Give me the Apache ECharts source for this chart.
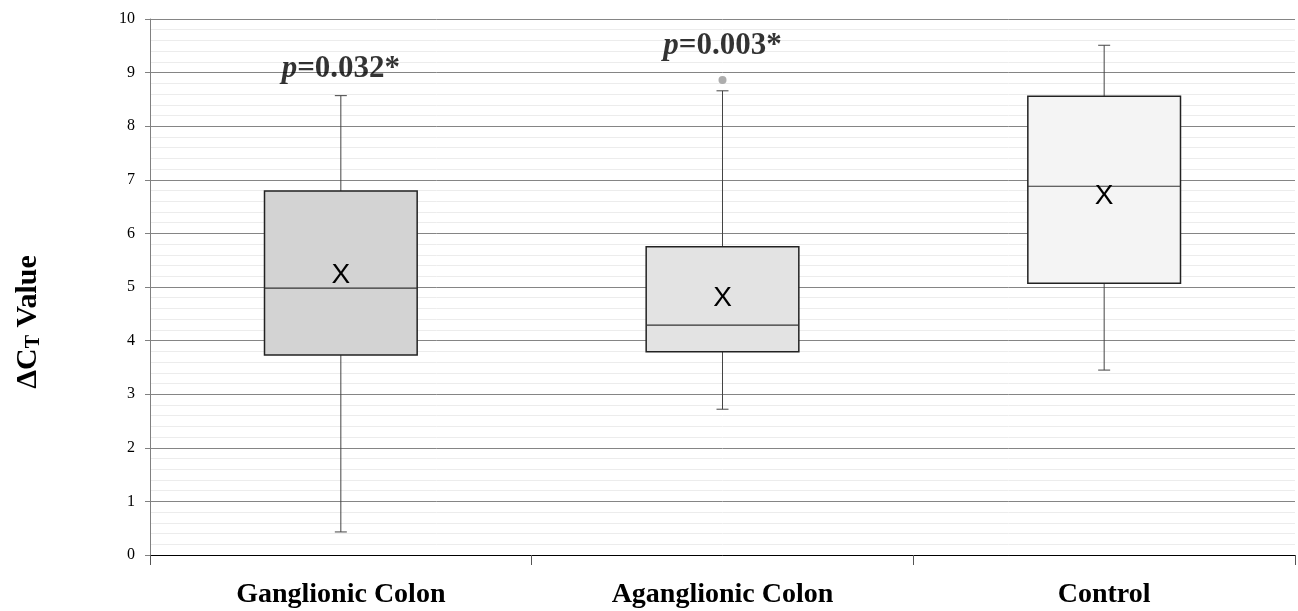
<!DOCTYPE html>
<html><head><meta charset="utf-8">
<script src="https://cdn.jsdelivr.net/npm/echarts@6/dist/echarts.min.js"></script>
<style>html,body{margin:0;padding:0;background:#fff}#c{width:1298px;height:611px}</style>
</head><body><div id="c"></div>
<script>
const categories = ['Ganglionic Colon', 'Aganglionic Colon', 'Control'];
const whiskerMin = [0.43, 2.72, 3.45];
const q1 = [3.73, 3.79, 5.07];
const median = [4.98, 4.29, 6.88];
const q3 = [6.79, 5.75, 8.56];
const whiskerMax = [8.57, 8.66, 9.51];
const means = [5.22, 4.79, 6.70];
const outliers = [[1, 8.86]];
const pText = ['0.032*', '0.003*'];
const pY = [9.07, 9.5];
const yTicks = [0, 1, 2, 3, 4, 5, 6, 7, 8, 9, 10];
const boxFills = ['#d3d3d3', '#e3e3e3', '#f4f4f4'];

const boxData = categories.map((c, i) => [i, whiskerMin[i], q1[i], median[i], q3[i], whiskerMax[i], means[i]]);
const pData = pText.map((t, i) => ({ value: [i, pY[i]], name: t }));

const chart = echarts.init(document.getElementById('c'));
chart.setOption({
  animation: false,
  graphic: [{
    type: 'text', x: 28, y: 322, rotation: Math.PI / 2,
    style: {
      text: '{a|ΔC}{b|T}{a| Value}', align: 'center', verticalAlign: 'middle',
      rich: {
        a: { fontFamily: 'Liberation Serif', fontWeight: 'bold', fontSize: 30, fill: '#000' },
        b: { fontFamily: 'Liberation Serif', fontWeight: 'bold', fontSize: 20, fill: '#000', padding: [12, 0, 0, 0] }
      }
    }
  }],
  grid: { left: 150, right: 3, top: 19, bottom: 56 },
  xAxis: {
    type: 'category', data: categories, boundaryGap: true,
    axisLine: { lineStyle: { color: '#000', width: 1 } },
    axisTick: { show: true, length: 10, lineStyle: { color: '#555' } },
    axisLabel: { fontFamily: 'Liberation Serif', fontWeight: 'bold', fontSize: 28, color: '#000', margin: 26 }
  },
  yAxis: {
    type: 'value', min: yTicks[0], max: yTicks[yTicks.length - 1], interval: 1,
    axisLine: { show: true, lineStyle: { color: '#808080' } },
    axisTick: { show: true, length: 5, lineStyle: { color: '#808080' } },
    axisLabel: { fontFamily: 'Liberation Serif', fontSize: 16, color: '#000', margin: 15 },
    splitLine: { show: true, lineStyle: { color: '#858585', width: 1 } },
    minorTick: { show: false, splitNumber: 5 },
    minorSplitLine: { show: true, lineStyle: { color: '#ececec', width: 1 } }
  },
  series: [
    {
      type: 'custom',
      data: boxData,
      encode: { x: 0, y: [1, 2, 3, 4, 5] },
      renderItem: function (params, api) {
        const i = api.value(0);
        const xc = api.coord([i, 0])[0];
        const bw = api.size([1, 0])[0] * 0.4;
        const cap = 12;
        const yMin = api.coord([i, api.value(1)])[1];
        const yQ1 = api.coord([i, api.value(2)])[1];
        const yMed = api.coord([i, api.value(3)])[1];
        const yQ3 = api.coord([i, api.value(4)])[1];
        const yMax = api.coord([i, api.value(5)])[1];
        const yMean = api.coord([i, api.value(6)])[1];
        const ws = { stroke: '#444', lineWidth: 1 };
        return {
          type: 'group',
          children: [
            { type: 'line', shape: { x1: xc, y1: yQ3, x2: xc, y2: yMax }, style: ws },
            { type: 'line', shape: { x1: xc - cap / 2, y1: yMax, x2: xc + cap / 2, y2: yMax }, style: ws },
            { type: 'line', shape: { x1: xc, y1: yQ1, x2: xc, y2: yMin }, style: ws },
            { type: 'line', shape: { x1: xc - cap / 2, y1: yMin, x2: xc + cap / 2, y2: yMin }, style: ws },
            { type: 'rect', shape: { x: xc - bw / 2, y: yQ3, width: bw, height: yQ1 - yQ3 }, style: { fill: boxFills[i], stroke: '#222', lineWidth: 1.5 } },
            { type: 'line', shape: { x1: xc - bw / 2, y1: yMed, x2: xc + bw / 2, y2: yMed }, style: { stroke: '#333', lineWidth: 1.2 } },
            { type: 'text', x: xc, y: yMean, style: { text: 'X', fontFamily: 'Liberation Sans', fontSize: 28, fill: '#000', align: 'center', verticalAlign: 'middle' } }
          ]
        };
      },
      z: 3
    },
    {
      type: 'scatter', data: outliers, symbol: 'circle', symbolSize: 8,
      itemStyle: { color: '#999' }, z: 4
    },
    {
      type: 'scatter', data: pData, symbolSize: 0,
      label: {
        show: true, position: 'inside',
        formatter: p => '{i|p}{b|=' + p.name + '}',
        rich: {
          i: { fontFamily: 'Liberation Serif', fontWeight: 'bold', fontStyle: 'italic', fontSize: 31, color: '#000' },
          b: { fontFamily: 'Liberation Serif', fontWeight: 'bold', fontSize: 31, color: '#000' }
        }
      }, z: 5
    }
  ]
});
</script></body></html>
